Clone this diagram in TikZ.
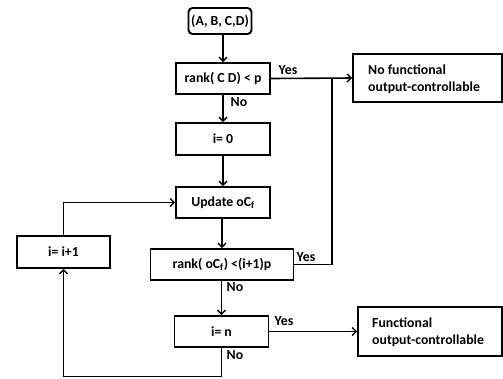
\documentclass[tikz,border=0pt]{standalone}
\usepackage{fontspec}
\setmainfont{Carlito}
\usetikzlibrary{arrows.meta}
\begin{document}
\begin{tikzpicture}[x=1pt,y=-1pt,
  font=\bfseries\fontsize{13.8}{16.5}\selectfont,
  box/.style={draw,line width=1.9pt,inner sep=1pt,align=center},
  conn/.style={line width=1.6pt},
  arr/.style={conn,-{Straight Barb[length=4pt,width=8pt,line width=1.4pt]}},
  lab/.style={inner sep=1pt}]
\useasboundingbox (0,0) rectangle (503,378);
\node[box,rounded corners=4pt,minimum width=63pt,minimum height=26pt,inner sep=0.5pt] (top) at (220,21) {(A, B, C,D)};
\node[box,minimum width=94pt,minimum height=31pt] (r1) at (223,78.5) {rank( C D) {\textless} p};
\node[draw,line width=1.9pt,minimum width=149pt,minimum height=48pt] (nf) at (427.5,78) {};
\node[anchor=west,align=left,inner sep=0pt] (nft) at (368,79) {No functional\\output-controllable};
\node[box,minimum width=94pt,minimum height=32pt] (i0) at (223,139) {i= 0};
\node[box,minimum width=94pt,minimum height=31pt] (up) at (223,202.5) {Update oC\textsubscript{f}};
\node[box,minimum width=93pt,minimum height=32pt] (ii) at (63.5,252) {i= i+1};
\node[box,minimum width=143pt,minimum height=31pt] (r2) at (222,264.5) {rank( oC\textsubscript{f}) {\textless}(i+1)p};
\node[box,minimum width=94pt,minimum height=31pt] (in) at (221.5,331.5) {i= n};
\node[draw,line width=1.9pt,minimum width=144pt,minimum height=49pt] (fo) at (430,331.5) {};
\node[anchor=west,align=left,inner sep=0pt] (fot) at (372,332) {Functional\\output-controllable};
\coordinate (j) at (332,78.5);
\coordinate (b) at (221.5,376.5);
\draw[arr] (top.south -| r1.north) -- (r1.north);
\draw[arr] (r1.east) -- (nf.west);
\draw[conn] (r2.east) -| (j);
\draw[arr] (r1.south) -- (i0.north);
\draw[arr] (i0.south) -- (up.north);
\draw[arr] (up.south -| r2.north) -- (r2.north);
\draw[arr] (r2.south -| in.north) -- (in.north);
\draw[arr] (in.east) -- (fo.west);
\draw[arr] (ii.north) |- (up.west);
\draw[arr] (in.south) -- (b) -| (ii.south);
\node[lab] (y1) at (288,70) {Yes};
\node[lab] (n1) at (239,102) {No};
\node[lab] (y2) at (306,257) {Yes};
\node[lab] (n2) at (235,287) {No};
\node[lab] (y3) at (284,321) {Yes};
\node[lab] (n3) at (235,355) {No};
\end{tikzpicture}
\end{document}
